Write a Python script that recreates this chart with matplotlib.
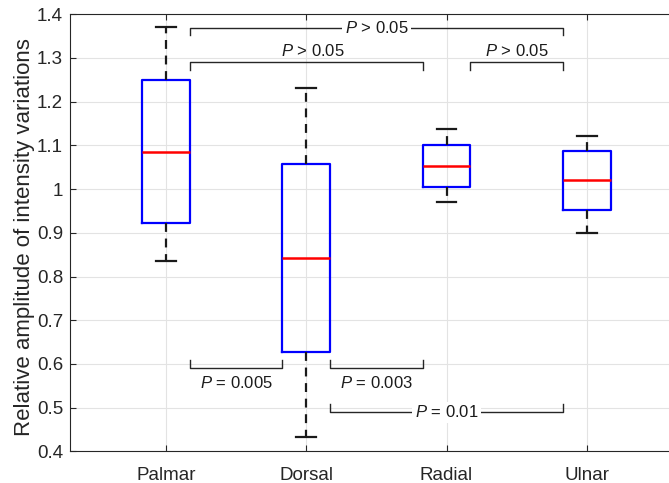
import matplotlib.pyplot as plt

plt.rcParams['font.family'] = ['Liberation Sans', 'DejaVu Sans']
plt.rcParams['mathtext.fontset'] = 'custom'
plt.rcParams['mathtext.it'] = 'Liberation Sans:italic'
plt.rcParams['mathtext.rm'] = 'Liberation Sans'

groups = ["Palmar", "Dorsal", "Radial", "Ulnar"]
whisk_lo = [0.835, 0.433, 0.970, 0.899]
q1 = [0.922, 0.627, 1.004, 0.952]
medians = [1.086, 0.842, 1.052, 1.020]
q3 = [1.250, 1.057, 1.100, 1.087]
whisk_hi = [1.371, 1.231, 1.138, 1.122]

# significance brackets: (x start, x end, y line, y tick end, label, label x, label y, inline)
brackets = [
    (1.17, 3.83, 1.368, 1.353, "$P$ > 0.05", 2.5, 1.368, True),
    (1.17, 2.83, 1.290, 1.273, "$P$ > 0.05", 2.05, 1.317, False),
    (3.17, 3.83, 1.290, 1.273, "$P$ > 0.05", 3.5, 1.317, False),
    (1.17, 1.83, 0.590, 0.609, "$P$ = 0.005", 1.5, 0.557, False),
    (2.17, 2.83, 0.590, 0.609, "$P$ = 0.003", 2.5, 0.557, False),
    (2.17, 3.83, 0.489, 0.508, "$P$ = 0.01", 3.0, 0.489, True),
]

stats = []
for i, g in enumerate(groups):
    stats.append(dict(label=g, whislo=whisk_lo[i], q1=q1[i], med=medians[i],
                      q3=q3[i], whishi=whisk_hi[i], fliers=[]))

fig = plt.figure(figsize=(6.69, 4.83), dpi=100)
ax = fig.add_axes([0.1046, 0.0656, 0.916, 0.9048])

ax.bxp(stats, widths=0.34, capwidths=0.14, showfliers=False,
       boxprops=dict(color='#0000ff', linewidth=1.6),
       medianprops=dict(color='#ff0000', linewidth=1.8),
       whiskerprops=dict(color='#1a1a1a', linewidth=1.6, linestyle=(0, (4, 3))),
       capprops=dict(color='#1a1a1a', linewidth=1.6))

for x0, x1, yl, yt, lab, tx, ty, inline in brackets:
    ax.plot([x0, x0, x1, x1], [yt, yl, yl, yt], color='#262626', lw=1.0)
    if inline:
        ax.text(tx, ty, lab, ha='center', va='center', fontsize=12, color='#1a1a1a',
                bbox=dict(facecolor='white', edgecolor='none', pad=2))
    else:
        ax.text(tx, ty, lab, ha='center', va='center', fontsize=12, color='#1a1a1a')

ax.set_xlim(0.316, 4.684)
ax.set_ylim(0.4, 1.4)
ax.set_yticks([0.4, 0.5, 0.6, 0.7, 0.8, 0.9, 1.0, 1.1, 1.2, 1.3, 1.4])
ax.set_yticklabels(["0.4", "0.5", "0.6", "0.7", "0.8", "0.9", "1", "1.1", "1.2", "1.3", "1.4"])
ax.set_ylabel("Relative amplitude of intensity variations", fontsize=16, color='#262626')
ax.yaxis.set_label_coords(-0.057, 0.49)
ax.grid(True, color='#e3e3e3', linewidth=0.8)
ax.set_axisbelow(True)
ax.tick_params(direction='in', length=4, top=True, right=True, labelsize=13.5,
               colors='#262626', width=0.8, pad=5)
ax.tick_params(axis='x', pad=11)
for s in ax.spines.values():
    s.set_color('#262626')
    s.set_linewidth(0.8)

plt.savefig("out.png", dpi=100)
